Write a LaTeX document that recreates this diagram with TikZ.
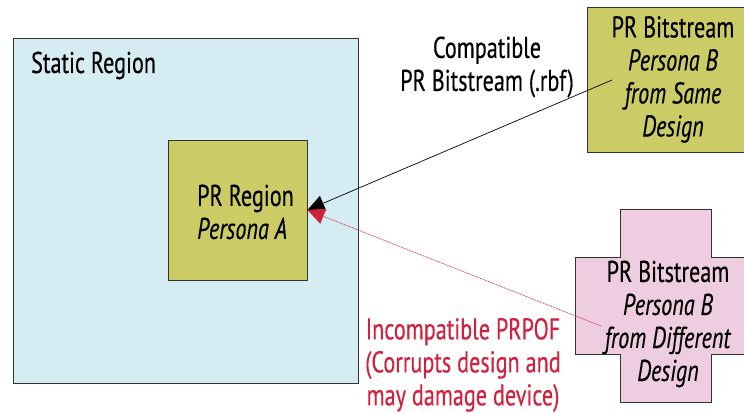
\documentclass[tikz,border=0pt]{standalone}
\usepackage{fontspec}
\setmainfont{PT Sans}[FakeStretch=0.74, FakeBold=0.35]
\usepackage {tikz}
\usetikzlibrary {positioning}
\usetikzlibrary{shapes,arrows.meta}
\definecolor{staticblue}{HTML}{D4ECF2}
\definecolor{prolive}{HTML}{CCCC66}
\definecolor{diffpink}{HTML}{EFCDE1}
\definecolor{badred}{HTML}{D0213E}
\tikzstyle{region} = [rectangle, draw=black!80, line width=0.9pt, inner sep=0pt]
\tikzstyle{bits} = [rectangle, draw=black!80, line width=0.9pt, fill=prolive,
    minimum width=172pt, minimum height=145pt, align=center, inner sep=0pt]
\tikzstyle{txt} = [inner sep=0pt, font=\fontsize{30}{33}\selectfont]
\tikzstyle{line} = [draw, line width=0.7pt, -{Triangle[length=17pt,width=16pt]}]

\begin{document}
\begin{tikzpicture}[x=1pt, y=-1pt]
    \useasboundingbox (0,0) rectangle (744,414);
    % Place nodes
    \node [region, fill=staticblue, minimum width=345pt, minimum height=345pt] (static) at (185.5,210.5) {};
    \node [txt, anchor=base west] (statlbl) at (31,73) {Static Region};
    \node [region, fill=prolive, minimum width=139pt, minimum height=140pt] (prreg) at (237.5,210) {};
    \node [txt, anchor=west, align=left] (prlbl) at (197,212) {PR Region\\\textit{Persona A}};
    \node [bits, txt] (samebits) at (673,79.5) {PR Bitstream\\\textit{Persona B}\\\textit{from Same}\\\textit{Design}};
    % cross for the other design
    \filldraw [fill=diffpink, draw=black!80, line width=0.9pt]
        (620,209) -- (711,209) -- (711,257) -- (756,257) -- (756,354) -- (711,354)
        -- (711,402) -- (620,402) -- (620,354) -- (575,354) -- (575,257) -- (620,257) -- cycle;
    \node [txt, align=center] (diffbits) at (668,324) {PR Bitstream\\\textit{Persona B}\\\textit{from Different}\\\textit{Design}};
    \node [txt, align=center] (oklbl) at (487,67) {Compatible\\PR Bitstream (.rbf)};
    \node [txt, align=center, text=badred] (badlbl) at (463,365) {Incompatible PRPOF\\(Corrupts design and\\may damage device)};
    \coordinate (sametail) at (612,80);
    \coordinate (difftail) at (601,326);

    % Draw edges
    \path [line] (sametail) -- (prreg.east);
    \path [line, draw=badred, fill=badred, densely dotted] (difftail) -- (prreg.east);
\end{tikzpicture}
\end{document}
